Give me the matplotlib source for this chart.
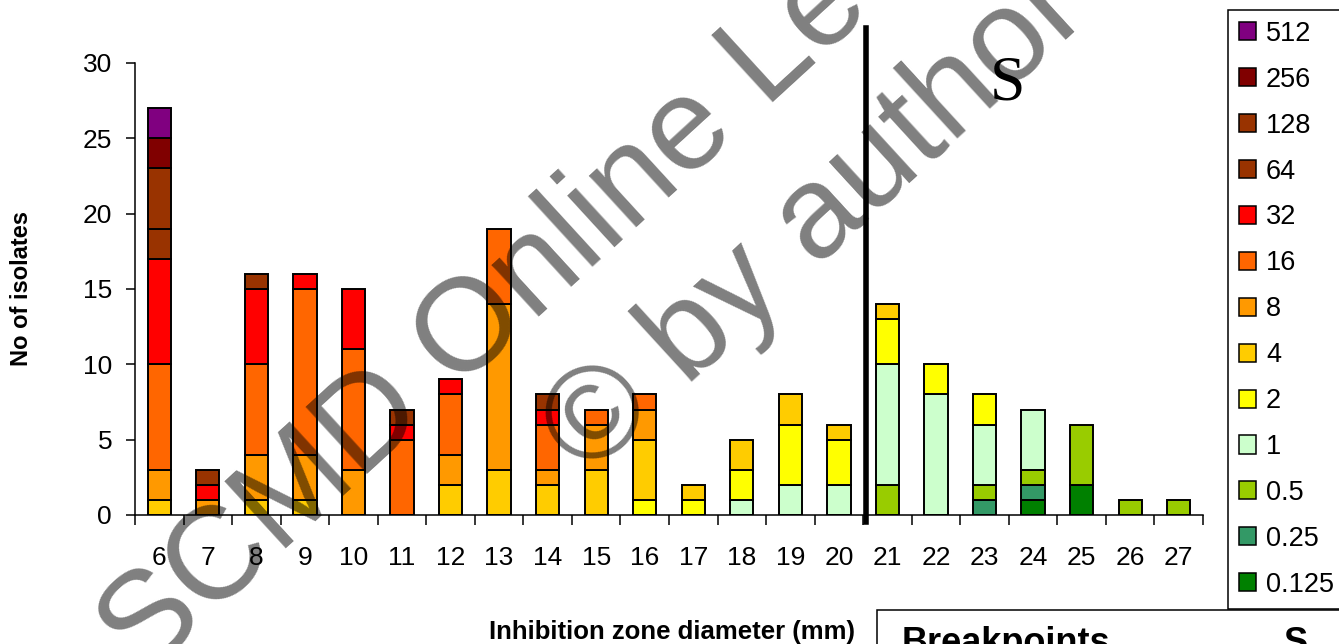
import numpy as np
import matplotlib
matplotlib.use('Agg')
import matplotlib.pyplot as plt
from matplotlib.patches import Patch, Rectangle

plt.rcParams['font.family'] = 'Liberation Sans'

# inhibition zone diameters (mm)
zones = [6, 7, 8, 9, 10, 11, 12, 13, 14, 15, 16, 17, 18, 19, 20, 21, 22, 23, 24, 25, 26, 27]

# number of isolates per MIC value, one list per MIC
mic_0125 = [0, 0, 0, 0, 0, 0, 0, 0, 0, 0, 0, 0, 0, 0, 0, 0, 0, 0, 1, 2, 0, 0]
mic_025 = [0, 0, 0, 0, 0, 0, 0, 0, 0, 0, 0, 0, 0, 0, 0, 0, 0, 1, 1, 0, 0, 0]
mic_05 = [0, 0, 0, 0, 0, 0, 0, 0, 0, 0, 0, 0, 0, 0, 0, 2, 0, 1, 1, 4, 1, 1]
mic_1 = [0, 0, 0, 0, 0, 0, 0, 0, 0, 0, 0, 0, 1, 2, 2, 8, 8, 4, 4, 0, 0, 0]
mic_2 = [0, 0, 0, 0, 0, 0, 0, 0, 0, 0, 1, 1, 2, 4, 3, 3, 2, 2, 0, 0, 0, 0]
mic_4 = [1, 0, 1, 1, 0, 0, 2, 3, 2, 3, 4, 1, 2, 2, 1, 1, 0, 0, 0, 0, 0, 0]
mic_8 = [2, 1, 3, 3, 3, 0, 2, 11, 1, 3, 2, 0, 0, 0, 0, 0, 0, 0, 0, 0, 0, 0]
mic_16 = [7, 0, 6, 11, 8, 5, 4, 5, 3, 1, 1, 0, 0, 0, 0, 0, 0, 0, 0, 0, 0, 0]
mic_32 = [7, 1, 5, 1, 4, 1, 1, 0, 1, 0, 0, 0, 0, 0, 0, 0, 0, 0, 0, 0, 0, 0]
mic_64 = [2, 1, 1, 0, 0, 1, 0, 0, 1, 0, 0, 0, 0, 0, 0, 0, 0, 0, 0, 0, 0, 0]
mic_128 = [4, 0, 0, 0, 0, 0, 0, 0, 0, 0, 0, 0, 0, 0, 0, 0, 0, 0, 0, 0, 0, 0]
mic_256 = [2, 0, 0, 0, 0, 0, 0, 0, 0, 0, 0, 0, 0, 0, 0, 0, 0, 0, 0, 0, 0, 0]
mic_512 = [2, 0, 0, 0, 0, 0, 0, 0, 0, 0, 0, 0, 0, 0, 0, 0, 0, 0, 0, 0, 0, 0]

mic_labels = ['0.125', '0.25', '0.5', '1', '2', '4', '8', '16', '32', '64', '128', '256', '512']
mic_colors = ['#008000', '#339966', '#99CC00', '#CCFFCC', '#FFFF00', '#FFCC00', '#FF9900',
              '#FF6600', '#FF0000', '#993300', '#993300', '#800000', '#800080']
series = [mic_0125, mic_025, mic_05, mic_1, mic_2, mic_4, mic_8, mic_16, mic_32,
          mic_64, mic_128, mic_256, mic_512]

breakpoint_s = 20.5

W, H = 1339, 644
fig = plt.figure(figsize=(W / 100, H / 100), dpi=100)
ax = fig.add_axes([135 / W, 1 - 515 / H, (1203 - 135) / W, (515 - 63) / H])

x = np.arange(len(zones))
bottom = np.zeros(len(zones))
for vals, col in zip(series, mic_colors):
    vals = np.array(vals, dtype=float)
    m = vals > 0
    ax.bar(x[m], vals[m], width=0.48, bottom=bottom[m], color=col,
           edgecolor='black', linewidth=1.4, zorder=2)
    bottom += vals

ax.set_xlim(-0.5, len(zones) - 0.5)
ax.set_ylim(0, 30)
ax.set_yticks([0, 5, 10, 15, 20, 25, 30])
ax.set_xticks(x)
ax.set_xticklabels([str(z) for z in zones])
ax.set_xticks(np.arange(-0.5, len(zones), 1.0), minor=True)
ax.tick_params(axis='x', which='major', length=0, pad=22, labelsize=19)
ax.tick_params(axis='x', which='minor', length=7, width=1.1, direction='out')
ax.tick_params(axis='y', length=6.5, width=1.1, pad=10, labelsize=19)
for s in ['top', 'right']:
    ax.spines[s].set_visible(False)
for s in ['left', 'bottom']:
    ax.spines[s].set_linewidth(1.1)

# S breakpoint line
bx = zones.index(int(breakpoint_s + 0.5)) - 0.45
ax.plot([bx, bx], [-0.45, 32.3], color='black', linewidth=4, clip_on=False, zorder=3)
fig.text(1008 / W, 1 - 100 / H, 'S', family='Liberation Serif', fontsize=46,
         ha='center', va='baseline')

fig.text(22 / W, 1 - 288 / H, 'No of isolates', rotation=90, fontsize=17,
         fontweight='bold', ha='center', va='center')
fig.text(672 / W, 1 - 632 / H, 'Inhibition zone diameter (mm)', fontsize=18.5,
         fontweight='bold', ha='center', va='center')

handles = [Patch(facecolor=c, edgecolor='black', linewidth=1.1)
           for c in mic_colors[::-1]]
leg = fig.legend(handles, mic_labels[::-1], loc='upper left',
                 bbox_to_anchor=(1228 / W, 1 - 10 / H), borderaxespad=0,
                 fontsize=19.5, handlelength=0.65, handleheight=0.65,
                 handletextpad=0.35, labelspacing=0.735, borderpad=0.4,
                 fancybox=False, framealpha=1, edgecolor='black')
leg.get_frame().set_linewidth(1.1)

# breakpoints table box (cut by the figure edge)
fig.patches.append(Rectangle((877 / W, -0.2), 0.5, 0.2 + 1 - 610 / H,
                             transform=fig.transFigure, fill=False,
                             edgecolor='black', linewidth=1.1))
fig.text(902 / W, 1 - 653 / H, 'Breakpoints', fontsize=26, fontweight='bold',
         ha='left', va='baseline')
fig.text(1296 / W, 1 - 653 / H, 'S', fontsize=26, fontweight='bold',
         ha='center', va='baseline')

# watermark
fig.text(143 / W, 1 - 679 / H, 'SCMD Online Lecture', fontsize=95, color='black',
         alpha=0.5, rotation=42.5, rotation_mode='anchor', ha='left', va='baseline',
         zorder=10)
fig.text(588 / W, 1 - 478 / H, '\u00a9 by author', fontsize=95, color='black',
         alpha=0.5, rotation=42.5, rotation_mode='anchor', ha='left', va='baseline',
         zorder=10)

fig.savefig('out.png', dpi=100)
